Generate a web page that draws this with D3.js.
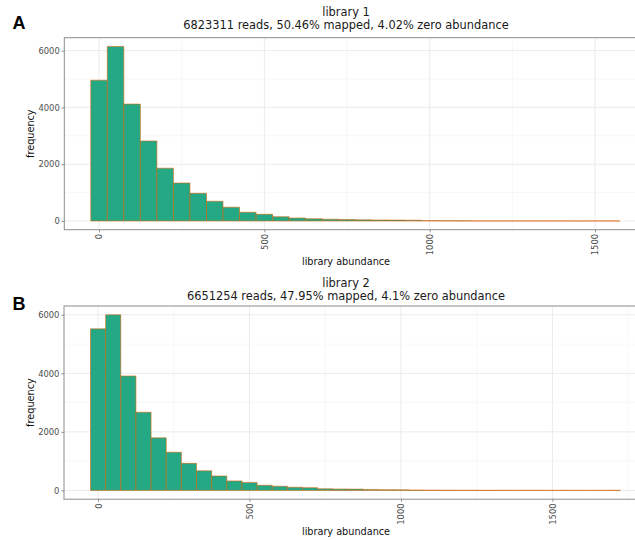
<!DOCTYPE html>
<html>
<head>
<meta charset="utf-8">
<script src="https://cdn.jsdelivr.net/npm/d3@7"></script>
<style>
  html, body { margin: 0; padding: 0; background: #fff; }
  svg { display: block; }
</style>
</head>
<body>
<svg id="fig" width="635" height="540"></svg>
<script>
// Histogram bins (bin centres, width 50) and counts for each library
const binWidth = 50;
const binsA = [0, 50, 100, 150, 200, 250, 300, 350, 400, 450, 500, 550, 600, 650, 700, 750,
               800, 850, 900, 950, 1000, 1050, 1100, 1150, 1200, 1250, 1300, 1350, 1400, 1450, 1500, 1550];
const countsA = [4960, 6150, 4120, 2820, 1860, 1340, 975, 695, 485, 305, 235, 152, 105, 80, 62, 52,
                 40, 36, 32, 28, 12, 9, 6, 3, 2, 2, 1, 1, 1, 0, 1, 1];

const binsB = [0, 50, 100, 150, 200, 250, 300, 350, 400, 450, 500, 550, 600, 650, 700, 750,
               800, 850, 900, 950, 1000, 1050, 1100, 1150, 1200, 1250, 1300, 1350, 1400, 1450, 1500,
               1550, 1600, 1650, 1700];
const countsB = [5520, 6000, 3910, 2670, 1795, 1305, 924, 671, 495, 325, 274, 176, 142, 108, 95, 55,
                 48, 45, 34, 25, 20, 14, 9, 5, 3, 2, 2, 1, 1, 1, 0, 1, 0, 0, 1];

// Axis ticks
const xTickValues = [0, 500, 1000, 1500];
const xMinorValues = [250, 750, 1250, 1750];
const yTickValues = [0, 2000, 4000, 6000];
const yMinorValues = [1000, 3000, 5000];

// Panel texts
const tags = ["A", "B"];
const titles = ["library 1", "library 2"];
const subtitles = [
  "6823311 reads, 50.46% mapped, 4.02% zero abundance",
  "6651254 reads, 47.95% mapped, 4.1% zero abundance"
];

const FILL = "#25a985";
const OUTLINE = "#d95f02";
const SANS = "'DejaVu Sans', sans-serif";

const svg = d3.select("#fig");

const layouts = [
  { top: 37.7, bottom: 229.7, left: 64.3, right: 646.3, tagY: 29.3, titleY: 16.4, subY: 29.4, xTitleY: 265.3 },
  { top: 306.0, bottom: 499.2, left: 64.0, right: 647.1, tagY: 310.0, titleY: 286.6, subY: 299.6, xTitleY: 535.0 }
];

const panelData = [
  { bins: binsA, counts: countsA },
  { bins: binsB, counts: countsB }
];

panelData.forEach((pd, i) => {
  const L = layouts[i];
  const g = svg.append("g");

  const xMin = d3.min(pd.bins) - binWidth / 2;
  const xMax = d3.max(pd.bins) + binWidth / 2;
  const xPad = (xMax - xMin) * 0.05;
  const x = d3.scaleLinear().domain([xMin - xPad, xMax + xPad]).range([L.left, L.right]);

  const yMax = d3.max(pd.counts);
  const y = d3.scaleLinear().domain([-0.05 * yMax, 1.05 * yMax]).range([L.bottom, L.top]);

  const clipId = "clip" + i;
  svg.append("clipPath").attr("id", clipId)
    .append("rect")
    .attr("x", L.left).attr("y", L.top)
    .attr("width", L.right - L.left).attr("height", L.bottom - L.top);

  const plot = g.append("g").attr("clip-path", `url(#${clipId})`);

  // minor grid
  plot.selectAll(".xminor").data(xMinorValues).join("line")
    .attr("x1", d => x(d)).attr("x2", d => x(d))
    .attr("y1", L.top).attr("y2", L.bottom)
    .attr("stroke", "#f2f2f2").attr("stroke-width", 0.6);
  plot.selectAll(".yminor").data(yMinorValues).join("line")
    .attr("x1", L.left).attr("x2", L.right)
    .attr("y1", d => y(d)).attr("y2", d => y(d))
    .attr("stroke", "#f2f2f2").attr("stroke-width", 0.6);

  // major grid
  plot.selectAll(".xmajor").data(xTickValues).join("line")
    .attr("x1", d => x(d)).attr("x2", d => x(d))
    .attr("y1", L.top).attr("y2", L.bottom)
    .attr("stroke", "#ebebeb").attr("stroke-width", 1);
  plot.selectAll(".ymajor").data(yTickValues).join("line")
    .attr("x1", L.left).attr("x2", L.right)
    .attr("y1", d => y(d)).attr("y2", d => y(d))
    .attr("stroke", "#ebebeb").attr("stroke-width", 1);

  // bars (paths so that empty bins still show their outline)
  const bars = pd.bins.map((b, k) => ({ c: b, n: pd.counts[k] }));
  plot.selectAll(".bar").data(bars).join("path")
    .attr("d", d => {
      const x0 = x(d.c - binWidth / 2), x1 = x(d.c + binWidth / 2);
      const y0 = y(0), y1 = y(d.n);
      return `M${x0},${y0}H${x1}V${y1}H${x0}Z`;
    })
    .attr("fill", FILL)
    .attr("stroke", OUTLINE)
    .attr("stroke-width", 0.65)
    .attr("stroke-opacity", 0.85);

  // panel border
  g.append("rect")
    .attr("x", L.left).attr("y", L.top)
    .attr("width", L.right - L.left).attr("height", L.bottom - L.top)
    .attr("fill", "none").attr("stroke", "#8c8c8c").attr("stroke-width", 1);

  // y axis
  const yAxis = g.append("g")
    .attr("transform", `translate(${L.left},0)`)
    .call(d3.axisLeft(y).tickValues(yTickValues).tickSize(2.75).tickPadding(1.8).tickFormat(d3.format("d")));
  yAxis.select(".domain").remove();
  yAxis.selectAll(".tick line").attr("stroke", "#555").attr("stroke-width", 0.6);
  yAxis.selectAll(".tick text")
    .attr("fill", "#4d4d4d").style("font-family", SANS).style("font-size", "8.4px");

  // x axis (labels rotated, reading upwards)
  const xAxis = g.append("g")
    .attr("transform", `translate(0,${L.bottom})`)
    .call(d3.axisBottom(x).tickValues(xTickValues).tickSize(2.75).tickFormat(d3.format("d")));
  xAxis.select(".domain").remove();
  xAxis.selectAll(".tick line").attr("stroke", "#555").attr("stroke-width", 0.6);
  xAxis.selectAll(".tick text")
    .attr("fill", "#4d4d4d").style("font-family", SANS).style("font-size", "8.4px")
    .attr("text-anchor", "end")
    .attr("x", -4.2).attr("y", 0).attr("dy", "0.35em")
    .attr("transform", "rotate(-90)");

  // axis titles
  g.append("text")
    .attr("x", 346).attr("y", L.xTitleY)
    .attr("text-anchor", "middle")
    .style("font-family", SANS).style("font-size", "9.7px").attr("fill", "#111")
    .text("library abundance");
  const yMid = (L.top + L.bottom) / 2;
  g.append("text")
    .attr("transform", `translate(33.7,${yMid}) rotate(-90)`)
    .attr("text-anchor", "middle")
    .style("font-family", SANS).style("font-size", "9.7px").attr("fill", "#111")
    .text("frequency");

  // title and subtitle
  g.append("text")
    .attr("x", 346).attr("y", L.titleY)
    .attr("text-anchor", "middle")
    .style("font-family", SANS).style("font-size", "11.4px").attr("fill", "#1a1a1a")
    .text(titles[i]);
  g.append("text")
    .attr("x", 346).attr("y", L.subY)
    .attr("text-anchor", "middle")
    .style("font-family", SANS).style("font-size", "11.4px").attr("fill", "#1a1a1a")
    .text(subtitles[i]);

  // panel tag
  g.append("text")
    .attr("x", 12.5).attr("y", L.tagY)
    .style("font-family", "'Liberation Sans', Arial, sans-serif")
    .style("font-size", "18px").style("font-weight", "bold").attr("fill", "#000")
    .text(tags[i]);
});
</script>
</body>
</html>
